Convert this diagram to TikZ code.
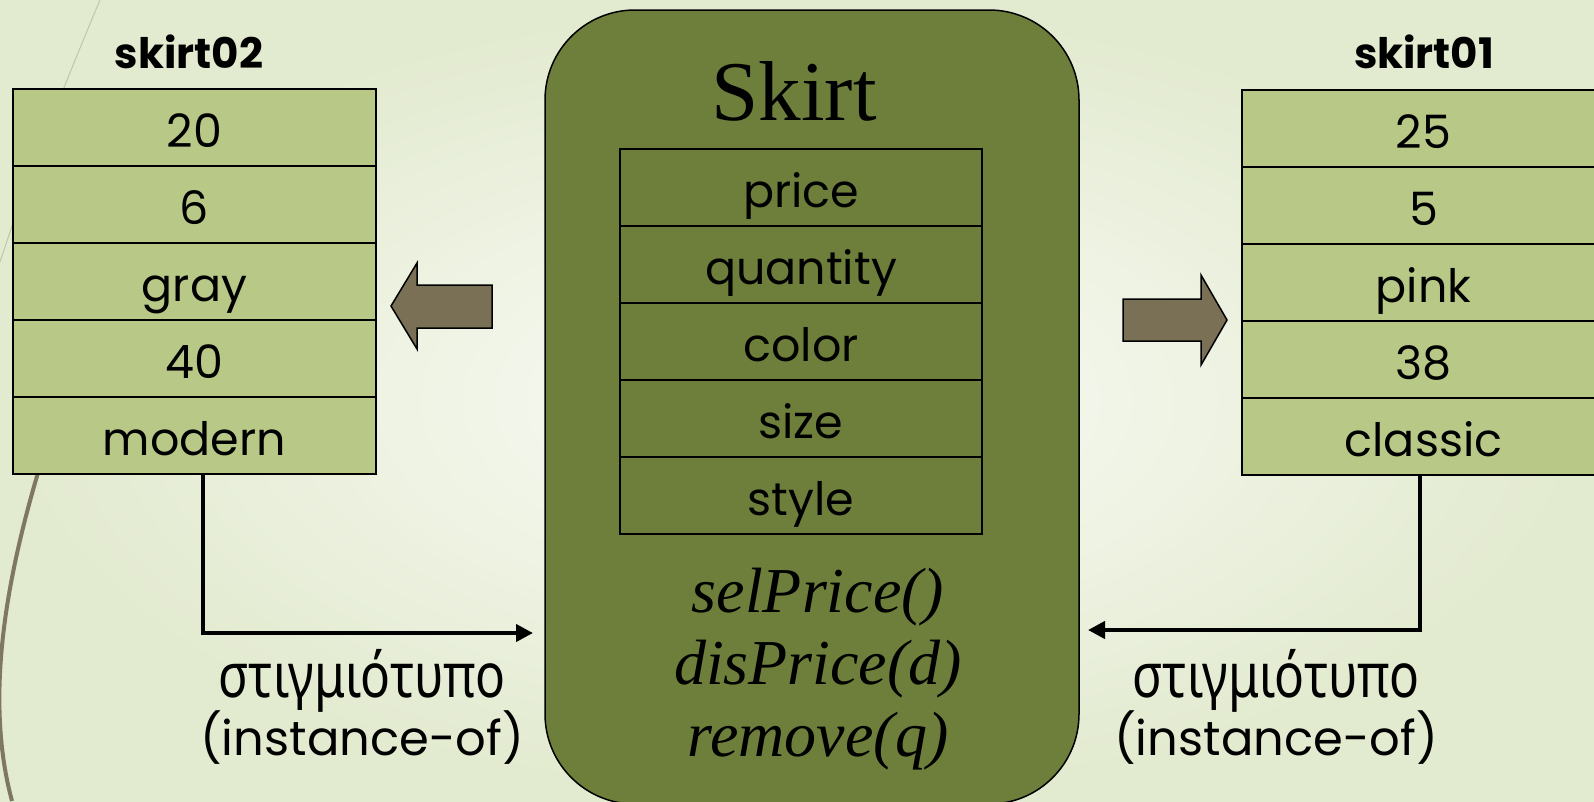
\documentclass[tikz,border=0pt]{standalone}
\usepackage{fontspec}
\setmainfont{Liberation Serif}
\newfontfamily\gothfont{Poppins}
\newfontfamily\greekfont{Noto Sans}[FakeStretch=0.8]
\usetikzlibrary{positioning, arrows.meta}

\definecolor{classgreen}{HTML}{6E7F3B}
\definecolor{cellgreen}{HTML}{B8C987}
\definecolor{arrowbrown}{HTML}{7A7055}
\definecolor{bginner}{HTML}{FBFCF8}
\definecolor{bgouter}{HTML}{E2EACF}
\definecolor{curvebrown}{HTML}{7E7862}
\definecolor{thinline}{HTML}{BFC6AE}

\begin{document}
\begin{tikzpicture}[
    x=1pt, y=-1pt,
    cell/.style={rectangle, draw=black, line width=2pt, fill=cellgreen, minimum width=363pt, minimum height=77pt, outer sep=0pt, inner sep=0pt, text height=39pt, text depth=0pt, font=\gothfont\fontsize{46}{50}\selectfont},
    attr/.style={cell, fill=none, minimum width=362pt},
    objname/.style={anchor=base, font=\gothfont\bfseries\fontsize{42}{46}\selectfont},
    classbox/.style={rectangle, rounded corners=90pt, draw=black, line width=1.5pt, fill=classgreen, minimum width=534pt, minimum height=794pt, outer sep=0pt},
    classname/.style={anchor=base, font=\fontsize{85}{90}\selectfont},
    method/.style={anchor=base, font=\itshape\fontsize{64}{70}\selectfont},
    link/.style={line width=4pt, -{Triangle[length=17pt, width=17pt]}},
    blockarrow/.style={draw=black, line width=1.5pt, fill=arrowbrown, line join=miter},
    lbl/.style={anchor=base, font=\gothfont\fontsize{48}{55}\selectfont},
]
    \useasboundingbox (0,0) rectangle (1594,801);
    \clip (0,0) rectangle (1594,801);

    % slide background
    \shade[inner color=bginner, outer color=bgouter] (0,0) rectangle (1594,801);
    \draw[line width=1pt, thinline] (100,0) .. controls (60,95) and (25,185) .. (0,262);
    \draw[line width=4pt, curvebrown] (48,440) .. controls (10,560) and (-18,690) .. (12,801);

    % class Skirt
    \node (cls) [classbox] at (812,407) {};
    \node (clsname) [classname] at (794,120) {Skirt};
    \node (A1) [attr] at (801,187.5) {price};
    \node (A2) [attr, below=0pt of A1] {quantity};
    \node (A3) [attr, below=0pt of A2] {color};
    \node (A4) [attr, below=0pt of A3] {size};
    \node (A5) [attr, below=0pt of A4] {style};
    \node (m1) [method] at (818,612) {selPrice()};
    \node (m2) [method] at (818,684) {disPrice(d)};
    \node (m3) [method] at (818,756) {remove(q)};

    % object skirt02
    \node (nameL) [objname] at (189,68) {skirt02};
    \node (L1) [cell] at (194.5,127.5) {20};
    \node (L2) [cell, below=0pt of L1] {6};
    \node (L3) [cell, below=0pt of L2] {gray};
    \node (L4) [cell, below=0pt of L3] {40};
    \node (L5) [cell, below=0pt of L4] {modern};

    % object skirt01
    \node (nameR) [objname] at (1424,68) {skirt01};
    \node (R1) [cell] at (1423.5,128.5) {25};
    \node (R2) [cell, below=0pt of R1] {5};
    \node (R3) [cell, below=0pt of R2] {pink};
    \node (R4) [cell, below=0pt of R3] {38};
    \node (R5) [cell, below=0pt of R4] {classic};

    % block arrows
    \filldraw[blockarrow] (492,285) -- (417,285) -- (417,263) -- (391,306) -- (417,349) -- (417,328) -- (492,328) -- cycle;
    \filldraw[blockarrow] (1123,299) -- (1201,299) -- (1201,275) -- (1227,320) -- (1201,365) -- (1201,341) -- (1123,341) -- cycle;

    % instance-of links
    \coordinate (inL) at (533,633);
    \coordinate (inR) at (1088,630);
    \draw[link] ([xshift=8.5pt]L5.south) |- (inL);
    \draw[link] ([xshift=-3.5pt]R5.south) |- (inR);

    \node (lblLa) [lbl] at (362,697) {\greekfont\fontsize{62}{66}\selectfont στιγμιότυπο};
    \node (lblLb) [lbl] at (362,755) {(instance-of)};
    \node (lblRa) [lbl] at (1276,697) {\greekfont\fontsize{62}{66}\selectfont στιγμιότυπο};
    \node (lblRb) [lbl] at (1276,755) {(instance-of)};

\end{tikzpicture}
\end{document}
